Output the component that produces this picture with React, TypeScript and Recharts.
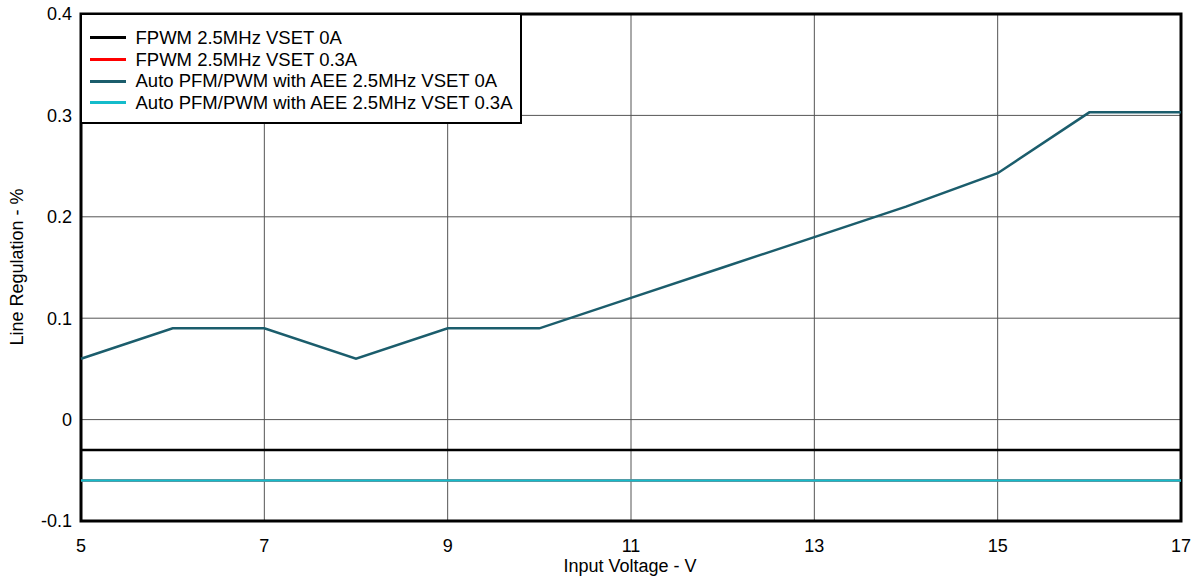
import React from 'react';
import { LineChart, Line, XAxis, YAxis, CartesianGrid, Legend, ReferenceArea } from 'recharts';

const voltages = [5, 6, 7, 8, 9, 10, 11, 12, 13, 14, 15, 16, 17];
const fpwm0A = [-0.03, -0.03, -0.03, -0.03, -0.03, -0.03, -0.03, -0.03, -0.03, -0.03, -0.03, -0.03, -0.03];
const fpwm03A = [-0.06, -0.06, -0.06, -0.06, -0.06, -0.06, -0.06, -0.06, -0.06, -0.06, -0.06, -0.06, -0.06];
const auto0A = [0.06, 0.09, 0.09, 0.06, 0.09, 0.09, 0.12, 0.15, 0.18, 0.21, 0.243, 0.303, 0.303];
const auto03A = [-0.06, -0.06, -0.06, -0.06, -0.06, -0.06, -0.06, -0.06, -0.06, -0.06, -0.06, -0.06, -0.06];

const xTicks = [5, 7, 9, 11, 13, 15, 17];
const yTicks = [-0.1, 0, 0.1, 0.2, 0.3, 0.4];

const seriesInfo = [
  { key: 'fpwm0A', name: 'FPWM 2.5MHz VSET 0A', color: '#000000' },
  { key: 'fpwm03A', name: 'FPWM 2.5MHz VSET 0.3A', color: '#ff0000' },
  { key: 'auto0A', name: 'Auto PFM/PWM with AEE 2.5MHz VSET 0A', color: '#1b5d6c' },
  { key: 'auto03A', name: 'Auto PFM/PWM with AEE 2.5MHz VSET 0.3A', color: '#14bccb' },
];

const data = voltages.map((v, i) => ({
  v,
  fpwm0A: fpwm0A[i],
  fpwm03A: fpwm03A[i],
  auto0A: auto0A[i],
  auto03A: auto03A[i],
}));

const FONT = '"Liberation Sans", Arial, sans-serif';

const LegendBox = () => (
  <div
    style={{
      boxSizing: 'border-box',
      width: 442,
      height: 111,
      border: '2.5px solid #000',
      background: '#fff',
      paddingTop: 12,
      paddingLeft: 7.5,
      fontFamily: FONT,
      fontSize: 18.5,
      color: '#000',
    }}
  >
    {seriesInfo.map((s) => (
      <div key={s.key} style={{ display: 'flex', alignItems: 'center', height: 21.7, whiteSpace: 'nowrap' }}>
        <div style={{ width: 36, height: 3, background: s.color, marginRight: 10 }} />
        <span>{s.name}</span>
      </div>
    ))}
  </div>
);

const YLabel = () => (
  <text
    x={17}
    y={267}
    transform="rotate(-90 17 267)"
    textAnchor="middle"
    dominantBaseline="central"
    fontSize={18}
    fill="#000"
    fontFamily={FONT}
  >
    Line Regulation - %
  </text>
);

const XLabel = () => (
  <text x={630} y={566} textAnchor="middle" dominantBaseline="central" fontSize={18} fill="#000" fontFamily={FONT}>
    Input Voltage - V
  </text>
);

export default function App() {
  return (
    <div style={{ position: 'absolute', left: 0, top: 0, fontFamily: FONT }}>
      <LineChart width={1196} height={580} data={data} margin={{ top: 14, right: 15, left: 0, bottom: 0 }}>
        <CartesianGrid stroke="#555" strokeWidth={1} />
        <XAxis
          dataKey="v"
          type="number"
          domain={[5, 17]}
          ticks={xTicks}
          height={59}
          tickLine={false}
          tickSize={0}
          tickMargin={18}
          axisLine={false}
          tick={{ fill: '#000', fontSize: 18 }}
          label={<XLabel />}
        />
        <YAxis
          type="number"
          domain={[-0.1, 0.4]}
          ticks={yTicks}
          width={81}
          tickLine={false}
          tickSize={0}
          tickMargin={9}
          axisLine={false}
          tick={{ fill: '#000', fontSize: 18 }}
          tickFormatter={(t: number) => String(t)}
          label={<YLabel />}
        />
        <Line dataKey="fpwm03A" name={seriesInfo[1].name} stroke={seriesInfo[1].color} strokeWidth={2.5} dot={false} isAnimationActive={false} />
        <Line dataKey="fpwm0A" name={seriesInfo[0].name} stroke={seriesInfo[0].color} strokeWidth={2.7} dot={false} isAnimationActive={false} />
        <Line dataKey="auto0A" name={seriesInfo[2].name} stroke={seriesInfo[2].color} strokeWidth={2.5} dot={false} isAnimationActive={false} />
        <Line dataKey="auto03A" name={seriesInfo[3].name} stroke={seriesInfo[3].color} strokeWidth={2.5} dot={false} isAnimationActive={false} />
        <ReferenceArea x1={5} x2={17} y1={-0.1} y2={0.4} fill="none" stroke="#000" strokeWidth={3} ifOverflow="visible" />
        <Legend
          layout="horizontal"
          align="center"
          verticalAlign="middle"
          content={<LegendBox />}
          wrapperStyle={{ left: 80, top: 13, width: 442, height: 111 }}
        />
      </LineChart>
    </div>
  );
}
